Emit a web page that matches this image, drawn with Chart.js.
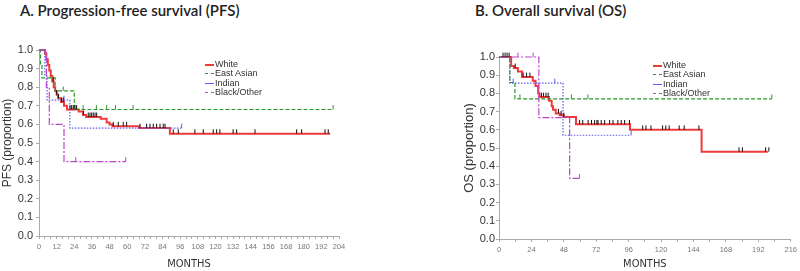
<!DOCTYPE html>
<html>
<head>
<meta charset="utf-8">
<script src="https://cdn.jsdelivr.net/npm/chart.js@4.4.1/dist/chart.umd.min.js"></script>
<style>
    body { margin: 0; background: #fff; width: 800px; height: 271px; position: relative; overflow: hidden; }
    .ttl { position: absolute; top: 1px; font-family: 'Lato', sans-serif; font-weight: 600; font-size: 15px; color: #222; white-space: nowrap; }
    canvas { position: absolute; top: 0; }
    .legend { position: absolute; font-family: 'Liberation Sans', Arial, sans-serif; font-size: 9px; color: #333; line-height: 9.3px; }
    .legend div { white-space: nowrap; }
    .legend span { display: inline-block; width: 9px; height: 0; vertical-align: middle; margin-right: 1px; }
</style>
</head>
<body>
<div class="ttl" style="left: 20px;">A. Progression-free survival (PFS)</div>
<div class="ttl" style="left: 475px;">B. Overall survival (OS)</div>
<canvas id="pfsChart" width="400" height="271" style="left: 0;"></canvas>
<canvas id="osChart" width="400" height="271" style="left: 400px;"></canvas>
<div class="legend" id="pfsLegend" style="left: 205px; top: 60px;"></div>
<div class="legend" id="osLegend" style="left: 653px; top: 61px;"></div>
<script>
// ---- PFS (months, proportion) ----
const pfsWhiteT = [0, 4, 5, 6, 7, 8, 9, 10, 11, 12, 13, 15, 17, 19, 27, 30, 32, 42, 46, 48, 50, 68, 89, 198];
const pfsWhiteS = [1.0, 0.98, 0.95, 0.92, 0.89, 0.86, 0.83, 0.80, 0.78, 0.76, 0.74, 0.72, 0.70, 0.68, 0.67, 0.65, 0.64, 0.63, 0.61, 0.60, 0.59, 0.58, 0.55, 0.55];
const pfsWhiteCens = [9.7, 12, 13.2, 15.4, 16.5, 21.1, 22.2, 23.3, 24.5, 25.6, 30.2, 33.5, 34.7, 35.8, 36.9, 38.1, 39.2, 50.5, 53.9, 57.3, 59.6, 68.7, 73.2, 75.5, 77.7, 80, 82.3, 84.5, 85.7, 91.3, 94.7, 106, 111.7, 118.5, 120.8, 123, 132, 134.4, 146.9, 175.2, 178.6, 194.5, 196.7];
const pfsAsianT = [0, 1, 2, 11, 24, 200];
const pfsAsianS = [1.0, 0.92, 0.85, 0.78, 0.68, 0.68];
const pfsAsianCens = [16.5, 30, 39, 46, 52, 64, 200];
const pfsIndianT = [0, 4, 5.5, 21, 97];
const pfsIndianS = [1.0, 0.86, 0.73, 0.58, 0.58];
const pfsIndianCens = [17, 97];
const pfsBlackT = [0, 5, 7, 17, 59];
const pfsBlackS = [1.0, 0.80, 0.60, 0.40, 0.40];
const pfsBlackCens = [25, 59];

// ---- OS (months, proportion) ----
const osWhiteT = [0, 9, 11, 14, 17, 25, 27, 29, 30, 37, 39, 40, 42, 45, 48, 57, 97, 150, 199];
const osWhiteS = [1.0, 0.95, 0.94, 0.92, 0.89, 0.87, 0.84, 0.80, 0.78, 0.76, 0.73, 0.71, 0.69, 0.68, 0.67, 0.63, 0.60, 0.48, 0.48];
const osWhiteCens = [3, 4.5, 6, 7.5, 12, 17.9, 20.4, 22.9, 31.4, 33, 34.8, 36.4, 44, 46, 48, 59.7, 62, 66, 68.5, 72.5, 70.8, 73.3, 75.7, 78.2, 81.9, 84.4, 88, 90.5, 93, 96.6, 106.4, 108.8, 112.5, 121.1, 123.5, 126, 133.4, 137.1, 148, 177.7, 180.2, 197.4, 199.8];
const osAsianT = [0, 8, 11.8, 202];
const osAsianS = [1.0, 0.86, 0.77, 0.77];
const osAsianCens = [15.5, 53.6, 65.8, 202];
const osIndianT = [0, 8, 47.4, 97.8];
const osIndianS = [1.0, 0.857, 0.57, 0.57];
const osIndianCens = [10.5, 41.3, 97.8];
const osBlackT = [0, 29.5, 52.3, 59.7];
const osBlackS = [1.0, 0.667, 0.333, 0.333];
const osBlackCens = [14, 25.3, 59.7];

const groupNames = ['White', 'East Asian', 'Indian', 'Black/Other'];
const pfsTicksX = { max: 204, step: 4, labelEvery: 12 };
const osTicksX = { max: 216, step: 12, labelEvery: 24 };

const styles = [
    { color: '#f03a3a', width: 2, dash: [], tickColor: '#111' },
    { color: '#2a9a2a', width: 1.2, dash: [4, 2], tickColor: '#2a9a2a' },
    { color: '#5c5cf0', width: 1.2, dash: [1.5, 1.5], tickColor: '#5c5cf0' },
    { color: '#bb44cc', width: 1.2, dash: [7, 2, 2, 2], tickColor: '#bb44cc' }
];
const legendDash = ['solid', 'dashed', 'solid', 'dashed'];

function survAt(ts, ss, t) {
    let s = ss[0];
    for (let i = 0; i < ts.length; i++) {
        if (ts[i] <= t) s = ss[i];
    }
    return s;
}

function buildSets(series) {
    const lines = series.map((sr, i) => ({
        type: 'line',
        data: sr.t.map((t, k) => ({ x: t, y: sr.s[k] })),
        borderColor: styles[i].color,
        borderWidth: styles[i].width,
        borderDash: styles[i].dash,
        stepped: 'before',
        pointRadius: 0,
        fill: false,
        clip: false,
        order: 4 - i
    }));
    const marks = series.map((sr, i) => ({
        type: 'scatter',
        data: sr.c.map(t => ({ x: t, y: survAt(sr.t, sr.s, t) + 0.012 })),
        pointStyle: 'line',
        rotation: 90,
        radius: 2.2,
        borderWidth: 1,
        borderColor: styles[i].tickColor,
        clip: false,
        order: 0
    }));
    return lines.reverse().concat(marks);
}

function makeChart(id, series, xt, opt) {
    const ctx = document.getElementById(id).getContext('2d');
    return new Chart(ctx, {
        data: { datasets: buildSets(series) },
        options: {
            responsive: false,
            animation: false,
            layout: { padding: { top: opt.top, right: opt.right, left: 0, bottom: 0 } },
            plugins: { legend: { display: false }, tooltip: { enabled: false } },
            scales: {
                x: {
                    type: 'linear',
                    min: 0,
                    max: xt.max,
                    afterFit: s => { s.height = opt.xh; },
                    border: { color: '#aaa' },
                    grid: { drawOnChartArea: false, tickLength: 3, color: '#aaa' },
                    ticks: {
                        stepSize: xt.step,
                        autoSkip: false,
                        maxRotation: 0,
                        padding: 3,
                        color: '#777',
                        font: { family: 'Liberation Sans', size: 7.5 },
                        callback: v => (v % xt.labelEvery === 0 ? String(v) : '')
                    },
                    title: {
                        display: true,
                        text: 'MONTHS',
                        color: '#333',
                        padding: { top: 0, bottom: opt.xtPad },
                        font: { family: 'DejaVu Sans Condensed, Liberation Sans', size: 11 }
                    }
                },
                y: {
                    min: 0,
                    max: 1,
                    afterFit: s => { s.width = opt.yw; },
                    border: { color: '#aaa' },
                    grid: { drawOnChartArea: false, tickLength: 3, color: '#aaa' },
                    ticks: {
                        stepSize: 0.1,
                        padding: opt.ytPad,
                        color: '#333',
                        font: { family: 'Liberation Sans', size: 11 },
                        callback: v => v.toFixed(1)
                    },
                    title: {
                        display: true,
                        text: opt.ytitle,
                        color: '#333',
                        padding: { top: opt.yTitlePad, bottom: 0 },
                        font: { family: 'Liberation Sans', size: opt.yTitleSize }
                    }
                }
            }
        }
    });
}

function fillLegend(id) {
    document.getElementById(id).innerHTML = groupNames.map((n, i) =>
        `<div><span style="border-top: ${i === 0 ? 2 : 1.5}px ${legendDash[i]} ${styles[i].color};"></span>${n}</div>`
    ).join('');
}

makeChart('pfsChart', [
    { t: pfsWhiteT, s: pfsWhiteS, c: pfsWhiteCens },
    { t: pfsAsianT, s: pfsAsianS, c: pfsAsianCens },
    { t: pfsIndianT, s: pfsIndianS, c: pfsIndianCens },
    { t: pfsBlackT, s: pfsBlackS, c: pfsBlackCens }
], pfsTicksX, { top: 50, right: 61, xh: 35, yw: 39, xtPad: 0, ytPad: 3, ytitle: 'PFS (proportion)', yTitlePad: 0, yTitleSize: 12 });

makeChart('osChart', [
    { t: osWhiteT, s: osWhiteS, c: osWhiteCens },
    { t: osAsianT, s: osAsianS, c: osAsianCens },
    { t: osIndianT, s: osIndianS, c: osIndianCens },
    { t: osBlackT, s: osBlackS, c: osBlackCens }
], osTicksX, { top: 57, right: 8, xh: 32, yw: 99, xtPad: 0, ytPad: 1, ytitle: 'OS (proportion)', yTitlePad: 62, yTitleSize: 13 });

fillLegend('pfsLegend');
fillLegend('osLegend');
</script>
</body>
</html>
